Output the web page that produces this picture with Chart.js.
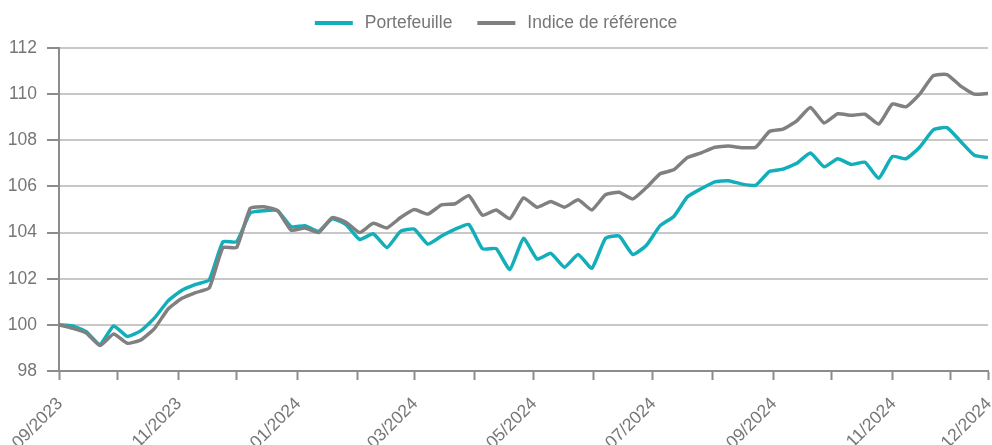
<!DOCTYPE html>
<html>
<head>
<meta charset="utf-8">
<script src="https://cdn.jsdelivr.net/npm/chart.js@4.4.1/dist/chart.umd.min.js"></script>
<style>
	html, body { margin: 0; padding: 0; background: #fff; }
</style>
</head>
<body>
<canvas id="chartPerf" width="992" height="445"></canvas>
<script>
'use strict'

// weekly valuation dates (Fridays)
const dates = [
	'2023-09-01', '2023-09-08', '2023-09-15', '2023-09-22', '2023-09-29',
	'2023-10-06', '2023-10-13', '2023-10-20', '2023-10-27',
	'2023-11-03', '2023-11-10', '2023-11-17', '2023-11-24',
	'2023-12-01', '2023-12-08', '2023-12-15', '2023-12-22', '2023-12-29',
	'2024-01-05', '2024-01-12', '2024-01-19', '2024-01-26',
	'2024-02-02', '2024-02-09', '2024-02-16', '2024-02-23',
	'2024-03-01', '2024-03-08', '2024-03-15', '2024-03-22', '2024-03-29',
	'2024-04-05', '2024-04-12', '2024-04-19', '2024-04-26',
	'2024-05-03', '2024-05-10', '2024-05-17', '2024-05-24', '2024-05-31',
	'2024-06-07', '2024-06-14', '2024-06-21', '2024-06-28',
	'2024-07-05', '2024-07-12', '2024-07-19', '2024-07-26',
	'2024-08-02', '2024-08-09', '2024-08-16', '2024-08-23', '2024-08-30',
	'2024-09-06', '2024-09-13', '2024-09-20', '2024-09-27',
	'2024-10-04', '2024-10-11', '2024-10-18', '2024-10-25',
	'2024-11-01', '2024-11-08', '2024-11-15', '2024-11-22', '2024-11-29',
	'2024-12-06', '2024-12-13', '2024-12-20',
];

const portefeuille = [
	100.0, 99.95, 99.7, 99.15, 99.95, 99.5, 99.75, 100.3, 101.05, 101.5,
	101.75, 101.95, 103.6, 103.6, 104.85, 104.95, 104.95, 104.25, 104.3, 104.05,
	104.6, 104.35, 103.7, 103.95, 103.35, 104.05, 104.15, 103.5, 103.85, 104.15,
	104.35, 103.3, 103.3, 102.4, 103.75, 102.85, 103.1, 102.5, 103.05, 102.45,
	103.75, 103.85, 103.05, 103.45, 104.3, 104.7, 105.55, 105.9, 106.2, 106.25,
	106.1, 106.05, 106.65, 106.75, 107.0, 107.45, 106.85, 107.2, 106.95, 107.05,
	106.35, 107.3, 107.2, 107.7, 108.45, 108.55, 107.95, 107.35, 107.25,
];

const indiceReference = [
	100.0, 99.85, 99.65, 99.1, 99.6, 99.2, 99.35, 99.85, 100.7, 101.15,
	101.4, 101.6, 103.35, 103.35, 105.05, 105.12, 104.95, 104.1, 104.2, 104.0,
	104.65, 104.45, 104.0, 104.4, 104.2, 104.65, 105.0, 104.8, 105.2, 105.25,
	105.6, 104.75, 104.98, 104.6, 105.5, 105.1, 105.35, 105.1, 105.42, 104.98,
	105.64, 105.75, 105.46, 105.95, 106.55, 106.72, 107.25, 107.45, 107.7, 107.75,
	107.68, 107.7, 108.38, 108.48, 108.84, 109.42, 108.75, 109.15, 109.08, 109.13,
	108.7, 109.57, 109.45, 110.0, 110.8, 110.85, 110.35, 110.0, 110.03,
];

// x axis ticks: first day of each month, then the last valuation date
const monthTicks = [
	'2023-09-01', '2023-10-01', '2023-11-01', '2023-12-01',
	'2024-01-01', '2024-02-01', '2024-03-01', '2024-04-01',
	'2024-05-01', '2024-06-01', '2024-07-01', '2024-08-01',
	'2024-09-01', '2024-10-01', '2024-11-01', '2024-12-01',
];
const lastTickLabel = '12/2024';

const yTicks = [98, 100, 102, 104, 106, 108, 110, 112];

const colors = {
	teal: '#12AFBB',
	gray: '#808080',
	text: '#767676',
	grid: '#C8C8C8',
	axis: '#8C8C8C',
};
const fontFamily = "'Liberation Sans', Arial, sans-serif";
const fontSize = 17.5;

const dayMs = 24 * 3600 * 1000;
const t0 = Date.parse(dates[0]);
const toDay = d => Math.round((Date.parse(d) - t0) / dayMs);
const lastDay = toDay(dates[dates.length - 1]);

const toPoints = values => values.map((v, i) => ({ x: toDay(dates[i]), y: v }));

// every other month is labelled, plus the last date
const xTickText = (index, count) => {
	if (index === count - 1) return lastTickLabel;
	if (index < monthTicks.length && index % 2 === 0) {
		const d = monthTicks[index];
		return d.slice(5, 7) + '/' + d.slice(0, 4);
	}
	return '';
};

const topLegend = {
	id: 'topLegend',
	afterDraw(chart) {
		const ctx = chart.ctx;
		const boxW = 38, boxH = 4, boxGap = 12, itemGap = 25, legendY = 23;
		ctx.save();
		ctx.font = fontSize + 'px ' + fontFamily;
		ctx.textBaseline = 'middle';
		ctx.textAlign = 'left';
		const items = chart.data.datasets.map(ds => ({
			text: ds.label,
			color: ds.borderColor,
			w: ctx.measureText(ds.label).width,
		}));
		const total = items.reduce((s, it) => s + boxW + boxGap + it.w, 0) + itemGap * (items.length - 1);
		let x = (chart.width - total) / 2;
		items.forEach(it => {
			ctx.fillStyle = it.color;
			ctx.fillRect(x, legendY - boxH / 2, boxW, boxH);
			x += boxW + boxGap;
			ctx.fillStyle = colors.text;
			ctx.fillText(it.text, x, legendY);
			x += it.w + itemGap;
		});
		ctx.restore();
	},
};

// rotated month labels, text centred on a line ending at the tick
const rotatedXLabels = {
	id: 'rotatedXLabels',
	afterDraw(chart) {
		const scale = chart.scales.x;
		const ctx = chart.ctx;
		ctx.save();
		ctx.font = fontSize + 'px ' + fontFamily;
		ctx.fillStyle = colors.text;
		ctx.textAlign = 'right';
		ctx.textBaseline = 'middle';
		scale.ticks.forEach((tick, i) => {
			const text = xTickText(i, scale.ticks.length);
			if (!text) return;
			ctx.save();
			ctx.translate(scale.getPixelForValue(tick.value) + 1, scale.top + 30);
			ctx.rotate(-Math.PI / 4);
			ctx.fillText(text, 0, 0);
			ctx.restore();
		});
		ctx.restore();
	},
};

new Chart(document.getElementById('chartPerf'), {
	type: 'line',
	data: {
		datasets: [
			{
				label: 'Portefeuille',
				data: toPoints(portefeuille),
				borderColor: colors.teal,
				backgroundColor: colors.teal,
				borderWidth: 3.5,
				pointRadius: 0,
				tension: 0.15,
				order: 1,
			},
			{
				label: 'Indice de référence',
				data: toPoints(indiceReference),
				borderColor: colors.gray,
				backgroundColor: colors.gray,
				borderWidth: 3.5,
				pointRadius: 0,
				tension: 0.15,
				order: 0,
			},
		],
	},
	options: {
		responsive: false,
		animation: false,
		layout: {
			padding: { top: 48, right: 4, left: 0, bottom: 0 },
		},
		plugins: {
			legend: { display: false },
			tooltip: { enabled: false },
		},
		scales: {
			x: {
				type: 'linear',
				min: 0,
				max: lastDay,
				afterBuildTicks(scale) {
					scale.ticks = monthTicks.map(d => ({ value: toDay(d) })).concat([{ value: lastDay }]);
				},
				afterFit(scale) {
					scale.height = 74;
					scale.paddingLeft = 0;
					scale.paddingRight = 0;
				},
				ticks: {
					display: false,
					autoSkip: false,
				},
				grid: {
					drawOnChartArea: false,
					drawTicks: true,
					tickLength: 9,
					tickColor: colors.axis,
					tickWidth: 2,
				},
				border: { color: colors.axis, width: 2 },
			},
			y: {
				min: yTicks[0],
				max: yTicks[yTicks.length - 1],
				afterBuildTicks(scale) {
					scale.ticks = yTicks.map(v => ({ value: v }));
				},
				afterFit(scale) {
					scale.width = 59;
				},
				ticks: {
					padding: 10,
					color: colors.text,
					font: { family: fontFamily, size: fontSize },
				},
				grid: {
					color: colors.grid,
					lineWidth: 2,
					tickLength: 12,
					tickColor: colors.axis,
					tickWidth: 2,
				},
				border: { color: colors.axis, width: 2 },
			},
		},
	},
	plugins: [topLegend, rotatedXLabels],
});
</script>
</body>
</html>
